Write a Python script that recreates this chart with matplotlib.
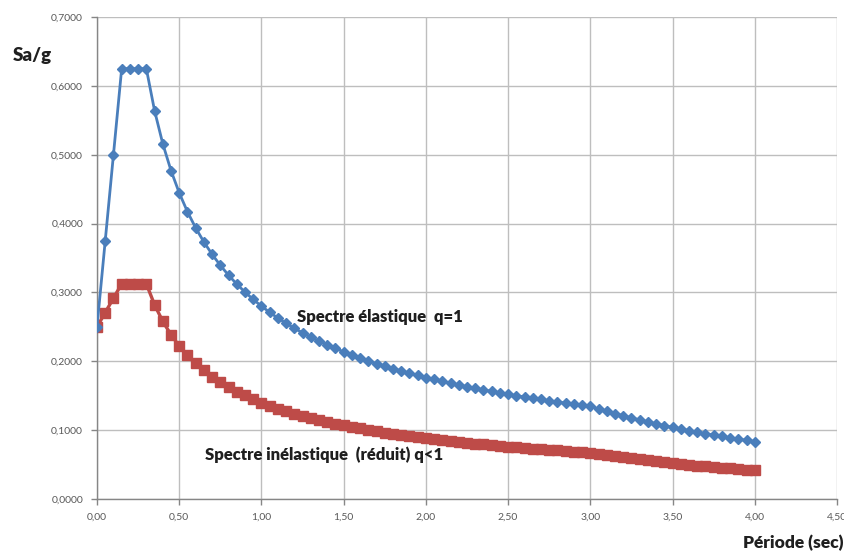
import matplotlib.pyplot as plt
from matplotlib.ticker import FuncFormatter, MultipleLocator

# Période (s), pas de 0,05 s
periode = [round(0.05 * i, 2) for i in range(81)]

# Spectre élastique q=1 (Sa/g)
sa_elastique = [
    0.2500, 0.3750, 0.5000, 0.6250, 0.6250, 0.6250, 0.6250, 0.5640, 0.5159, 0.4770,
    0.4446, 0.4172, 0.3937, 0.3733, 0.3553, 0.3393, 0.3250, 0.3121, 0.3005, 0.2898,
    0.2801, 0.2711, 0.2628, 0.2552, 0.2480, 0.2414, 0.2351, 0.2293, 0.2238, 0.2186,
    0.2138, 0.2091, 0.2048, 0.2006, 0.1966, 0.1929, 0.1893, 0.1859, 0.1826, 0.1795,
    0.1764, 0.1736, 0.1708, 0.1681, 0.1656, 0.1631, 0.1607, 0.1585, 0.1563, 0.1541,
    0.1521, 0.1501, 0.1481, 0.1463, 0.1445, 0.1427, 0.1410, 0.1393, 0.1377, 0.1362,
    0.1347, 0.1310, 0.1275, 0.1241, 0.1209, 0.1178, 0.1149, 0.1120, 0.1093, 0.1067,
    0.1041, 0.1017, 0.0994, 0.0971, 0.0949, 0.0928, 0.0908, 0.0888, 0.0870, 0.0851,
    0.0834,
]

# Spectre inélastique (réduit) q<1 (Sa/g)
sa_inelastique = [
    0.2500, 0.2708, 0.2917, 0.3125, 0.3125, 0.3125, 0.3125, 0.2820, 0.2580, 0.2385,
    0.2223, 0.2086, 0.1969, 0.1867, 0.1777, 0.1697, 0.1625, 0.1561, 0.1503, 0.1449,
    0.1401, 0.1356, 0.1314, 0.1276, 0.1240, 0.1207, 0.1176, 0.1147, 0.1119, 0.1093,
    0.1069, 0.1046, 0.1024, 0.1003, 0.0983, 0.0965, 0.0947, 0.0930, 0.0913, 0.0898,
    0.0882, 0.0868, 0.0854, 0.0841, 0.0828, 0.0816, 0.0804, 0.0793, 0.0782, 0.0771,
    0.0761, 0.0751, 0.0741, 0.0732, 0.0723, 0.0714, 0.0705, 0.0697, 0.0689, 0.0681,
    0.0673, 0.0655, 0.0638, 0.0621, 0.0605, 0.0589, 0.0575, 0.0560, 0.0547, 0.0534,
    0.0521, 0.0509, 0.0497, 0.0486, 0.0475, 0.0464, 0.0454, 0.0444, 0.0435, 0.0426,
    0.0417,
]

BLEU = '#4a7ebb'
ROUGE = '#be4b48'
GRIS = '#595959'
NOIR = '#1f1f1f'

plt.rcParams['font.family'] = ['Lato', 'DejaVu Sans']

fig = plt.figure(figsize=(8.45, 5.54), dpi=100)
ax = fig.add_axes([0.1148, 0.0993, 0.8757, 0.8700])

ax.plot(periode, sa_inelastique, color=ROUGE, lw=2.4, marker='s', ms=7.5,
        mfc=ROUGE, mec=ROUGE, zorder=3)
ax.plot(periode, sa_elastique, color=BLEU, lw=2.0, marker='D', ms=4.8,
        mfc=BLEU, mec=BLEU, zorder=4)

ax.set_xlim(0, 4.5)
ax.set_ylim(0, 0.7)
ax.xaxis.set_major_locator(MultipleLocator(0.5))
ax.yaxis.set_major_locator(MultipleLocator(0.1))
ax.xaxis.set_major_formatter(FuncFormatter(lambda v, p: f"{v:.2f}".replace('.', ',')))
ax.yaxis.set_major_formatter(FuncFormatter(lambda v, p: f"{v:.4f}".replace('.', ',')))

ax.grid(True, color='#bebebe', lw=1.0)
ax.set_axisbelow(True)
for s in ['top', 'right']:
    ax.spines[s].set_visible(False)
for s in ['left', 'bottom']:
    ax.spines[s].set_color('#868686')
    ax.spines[s].set_linewidth(1.0)
ax.tick_params(axis='both', length=4, width=1, color='#868686',
               labelsize=7.5, labelcolor=GRIS, pad=6)

# titres des axes et étiquettes des courbes
fig.text(32 / 845, 1 - 55 / 554, 'Sa/g', fontsize=13.5, fontweight='heavy',
         color=NOIR, ha='center', va='center')
fig.text(1 - 1 / 845, 1 - 543 / 554, 'Période (sec)', fontsize=12.5, fontweight='heavy',
         color=NOIR, ha='right', va='center')
ax.text(1.215, 0.265, 'Spectre élastique  q=1', fontsize=12, fontweight='heavy',
        color=NOIR, ha='left', va='center')
ax.text(0.655, 0.065, 'Spectre inélastique  (réduit) q<1', fontsize=12,
        fontweight='heavy', color=NOIR, ha='left', va='center')

fig.savefig('out.png', dpi=100)
